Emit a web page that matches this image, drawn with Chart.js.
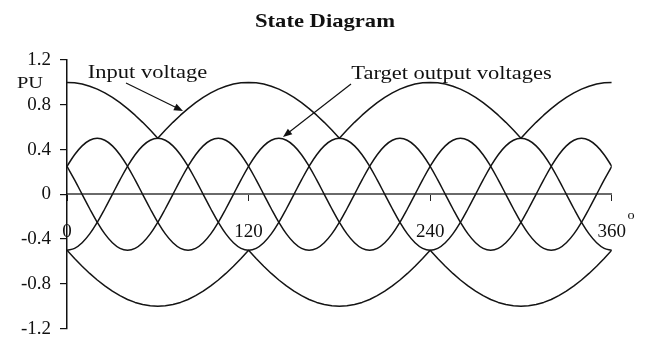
<!DOCTYPE html>
<html>
<head>
<meta charset="utf-8">
<script src="https://cdn.jsdelivr.net/npm/chart.js@4"></script>
<style>
html,body{margin:0;padding:0;background:#fff;}
canvas{display:block;}
</style>
</head>
<body>
<canvas id="c" width="646" height="349"></canvas>
<script>
// ---- data ----
const angles = [0,5,10,15,20,25,30,35,40,45,50,55,60,65,70,75,80,85,90,95,100,105,110,115,
  120,125,130,135,140,145,150,155,160,165,170,175,180,185,190,195,200,205,210,215,220,225,230,235,
  240,245,250,255,260,265,270,275,280,285,290,295,300,305,310,315,320,325,330,335,340,345,350,355,360];

const inputUpper = [1,0.996,0.985,0.966,0.94,0.906,0.866,0.819,0.766,0.707,0.643,0.574,0.5,0.574,0.643,0.707,0.766,0.819,0.866,0.906,0.94,0.966,0.985,0.996,
  1,0.996,0.985,0.966,0.94,0.906,0.866,0.819,0.766,0.707,0.643,0.574,0.5,0.574,0.643,0.707,0.766,0.819,0.866,0.906,0.94,0.966,0.985,0.996,
  1,0.996,0.985,0.966,0.94,0.906,0.866,0.819,0.766,0.707,0.643,0.574,0.5,0.574,0.643,0.707,0.766,0.819,0.866,0.906,0.94,0.966,0.985,0.996,1];

const inputLower = [-0.5,-0.574,-0.643,-0.707,-0.766,-0.819,-0.866,-0.906,-0.94,-0.966,-0.985,-0.996,-1,-0.996,-0.985,-0.966,-0.94,-0.906,-0.866,-0.819,-0.766,-0.707,-0.643,-0.574,
  -0.5,-0.574,-0.643,-0.707,-0.766,-0.819,-0.866,-0.906,-0.94,-0.966,-0.985,-0.996,-1,-0.996,-0.985,-0.966,-0.94,-0.906,-0.866,-0.819,-0.766,-0.707,-0.643,-0.574,
  -0.5,-0.574,-0.643,-0.707,-0.766,-0.819,-0.866,-0.906,-0.94,-0.966,-0.985,-0.996,-1,-0.996,-0.985,-0.966,-0.94,-0.906,-0.866,-0.819,-0.766,-0.707,-0.643,-0.574,-0.5];

const outputA = [0.25,0.354,0.433,0.483,0.5,0.483,0.433,0.354,0.25,0.129,0,-0.129,-0.25,-0.354,-0.433,-0.483,-0.5,-0.483,-0.433,-0.354,-0.25,-0.129,0,0.129,
  0.25,0.354,0.433,0.483,0.5,0.483,0.433,0.354,0.25,0.129,0,-0.129,-0.25,-0.354,-0.433,-0.483,-0.5,-0.483,-0.433,-0.354,-0.25,-0.129,0,0.129,
  0.25,0.354,0.433,0.483,0.5,0.483,0.433,0.354,0.25,0.129,0,-0.129,-0.25,-0.354,-0.433,-0.483,-0.5,-0.483,-0.433,-0.354,-0.25,-0.129,0,0.129,0.25];

const outputB = [-0.5,-0.483,-0.433,-0.354,-0.25,-0.129,0,0.129,0.25,0.354,0.433,0.483,0.5,0.483,0.433,0.354,0.25,0.129,0,-0.129,-0.25,-0.354,-0.433,-0.483,
  -0.5,-0.483,-0.433,-0.354,-0.25,-0.129,0,0.129,0.25,0.354,0.433,0.483,0.5,0.483,0.433,0.354,0.25,0.129,0,-0.129,-0.25,-0.354,-0.433,-0.483,
  -0.5,-0.483,-0.433,-0.354,-0.25,-0.129,0,0.129,0.25,0.354,0.433,0.483,0.5,0.483,0.433,0.354,0.25,0.129,0,-0.129,-0.25,-0.354,-0.433,-0.483,-0.5];

const outputC = [0.25,0.129,0,-0.129,-0.25,-0.354,-0.433,-0.483,-0.5,-0.483,-0.433,-0.354,-0.25,-0.129,0,0.129,0.25,0.354,0.433,0.483,0.5,0.483,0.433,0.354,
  0.25,0.129,0,-0.129,-0.25,-0.354,-0.433,-0.483,-0.5,-0.483,-0.433,-0.354,-0.25,-0.129,0,0.129,0.25,0.354,0.433,0.483,0.5,0.483,0.433,0.354,
  0.25,0.129,0,-0.129,-0.25,-0.354,-0.433,-0.483,-0.5,-0.483,-0.433,-0.354,-0.25,-0.129,0,0.129,0.25,0.354,0.433,0.483,0.5,0.483,0.433,0.354,0.25];

const xTicks = [0,120,240,360];
const xTickLabels = ['0','120','240','360'];
const yTicks = [-1.2,-0.8,-0.4,0,0.4,0.8,1.2];
const yTickLabels = ['-1.2','-0.8','-0.4','0','0.4','0.8','1.2'];

const titleText = 'State Diagram';
const yUnitText = 'PU';
const inputLabel = 'Input voltage';
const outputLabel = 'Target output voltages';
const degreeMark = 'o';

// ---- build ----
const LINE = '#141414';
function series(vals){ return angles.map((a,i)=>({x:a, y:vals[i]})); }
function ds(label, vals, tension){
  return {label, data: series(vals), borderColor: LINE, borderWidth: 1.5,
          pointRadius: 0, tension: tension, fill: false, borderJoinStyle: 'round'};
}

const SERIF = '"Liberation Serif", "Times New Roman", serif';

function stretchedText(ctx, text, cx, baseline, font, sx){
  ctx.save();
  ctx.font = font;
  ctx.fillStyle = '#111';
  ctx.textAlign = 'center';
  ctx.textBaseline = 'alphabetic';
  ctx.translate(cx, baseline);
  ctx.scale(sx, 1);
  ctx.fillText(text, 0, 0);
  ctx.restore();
}
function arrow(ctx, x1, y1, x2, y2){
  ctx.save();
  ctx.strokeStyle = '#111';
  ctx.fillStyle = '#111';
  ctx.lineWidth = 1.2;
  const ang = Math.atan2(y2 - y1, x2 - x1);
  const L = 9, W = 3.6;
  ctx.beginPath();
  ctx.moveTo(x1, y1);
  ctx.lineTo(x2 - Math.cos(ang) * L * 0.8, y2 - Math.sin(ang) * L * 0.8);
  ctx.stroke();
  ctx.beginPath();
  ctx.moveTo(x2, y2);
  ctx.lineTo(x2 - Math.cos(ang) * L - Math.sin(ang) * W, y2 - Math.sin(ang) * L + Math.cos(ang) * W);
  ctx.lineTo(x2 - Math.cos(ang) * L + Math.sin(ang) * W, y2 - Math.sin(ang) * L - Math.cos(ang) * W);
  ctx.closePath();
  ctx.fill();
  ctx.restore();
}

const annotations = {
  id: 'annotations',
  afterDraw(chart){
    const ctx = chart.ctx;
    stretchedText(ctx, titleText, 325, 27, 'bold 19px ' + SERIF, 1.19);
    stretchedText(ctx, yUnitText, 30, 88, '17px ' + SERIF, 1.2);
    stretchedText(ctx, inputLabel, 147.5, 78, '18px ' + SERIF, 1.25);
    stretchedText(ctx, outputLabel, 451.5, 79, '18px ' + SERIF, 1.25);
    stretchedText(ctx, degreeMark, 631, 219, '13px ' + SERIF, 1.1);
    arrow(ctx, 126, 83, 183, 111);
    arrow(ctx, 351, 84, 283, 137);
  }
};

new Chart(document.getElementById('c'), {
  type: 'line',
  data: {
    datasets: [
      ds('Input voltage (upper)', inputUpper, 0),
      ds('Input voltage (lower)', inputLower, 0),
      ds('Target output A', outputA, 0.4),
      ds('Target output B', outputB, 0.4),
      ds('Target output C', outputC, 0.4)
    ]
  },
  options: {
    responsive: false,
    animation: false,
    layout: { padding: { left: 0, top: 60, right: 29, bottom: 13 } },
    plugins: { legend: { display: false }, tooltip: { enabled: false }, title: { display: false } },
    scales: {
      x: {
        type: 'linear', min: 0, max: 360,
        position: { y: 0 },
        afterBuildTicks: (s) => { s.ticks = xTicks.map(v => ({ value: v })); },
        grid: { drawOnChartArea: false, drawTicks: true, tickLength: 6, color: '#222', lineWidth: 1 },
        border: { display: true, color: '#6a6a6a', width: 2 },
        ticks: {
          autoSkip: false, maxRotation: 0, minRotation: 0, padding: 20,
          color: '#111', font: { family: SERIF, size: 19 },
          callback: (v, i) => xTickLabels[i]
        }
      },
      y: {
        type: 'linear', min: -1.2, max: 1.2, position: 'left',
        afterBuildTicks: (s) => { s.ticks = yTicks.map(v => ({ value: v })); },
        afterFit: (s) => { s.width = 67; },
        grid: { drawOnChartArea: false, drawTicks: true, tickLength: 7, color: '#111', lineWidth: 1.2 },
        border: { display: true, color: '#111', width: 1.5 },
        ticks: {
          padding: 9, color: '#111', font: { family: SERIF, size: 19 },
          callback: (v, i) => yTickLabels[i]
        }
      }
    }
  },
  plugins: [annotations]
});
</script>
</body>
</html>
